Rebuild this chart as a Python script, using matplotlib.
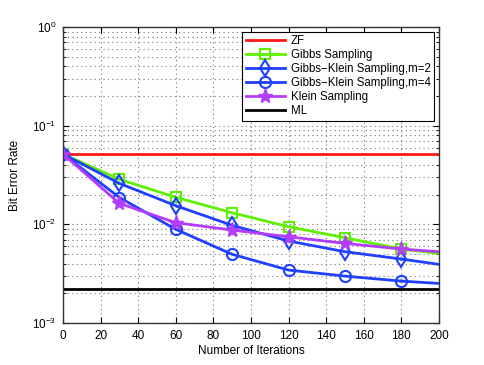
import matplotlib
matplotlib.use('Agg')
import matplotlib.pyplot as plt
import numpy as np

# ── Data ────────────────────────────────────────────────────────────────────
iters = [0, 30, 60, 90, 120, 150, 180, 200]
zf = [0.0515] * len(iters)
ml = [0.00221] * len(iters)
gibbs = [0.0515, 0.0286, 0.0188, 0.0131, 0.00946, 0.00731, 0.00562, 0.00508]
gk_m2 = [0.0515, 0.0260, 0.01545, 0.00977, 0.00678, 0.00528, 0.00445, 0.00393]
gk_m4 = [0.0515, 0.0187, 0.0089, 0.00497, 0.00344, 0.00299, 0.00266, 0.00252]
klein = [0.0515, 0.0163, 0.0104, 0.00875, 0.00748, 0.00642, 0.00562, 0.00528]

plt.rcParams['font.family'] = ['Liberation Sans', 'DejaVu Sans']

fig = plt.figure(figsize=(4.85, 3.65), dpi=100)
ax = fig.add_axes([0.130, 0.115, 0.775, 0.811])

lw = 2.0
ms = 7
ax.semilogy(iters, zf, color='#ff1a1a', lw=lw, label='ZF')
ax.semilogy(iters[:-1], gibbs[:-1], color='#5ef000', lw=lw, marker='s', ms=ms,
            mfc='none', mew=1.5, label='Gibbs Sampling')
ax.semilogy(iters[:-1], gk_m2[:-1], color='#2040ff', lw=lw, marker='d', ms=ms + 1,
            mfc='none', mew=1.5, label='Gibbs\u2212Klein Sampling,m=2')
ax.semilogy(iters[:-1], gk_m4[:-1], color='#2040ff', lw=lw, marker='o', ms=ms + 1,
            mfc='none', mew=1.5, label='Gibbs\u2212Klein Sampling,m=4')
ax.semilogy(iters[:-1], klein[:-1], color='#b43cff', lw=lw, marker='*', ms=ms + 4,
            mew=1.0, label='Klein Sampling')
ax.semilogy(iters, ml, color='black', lw=lw, label='ML')

# line tails to x=200 without markers
ax.semilogy(iters[-2:], gibbs[-2:], color='#5ef000', lw=lw)
ax.semilogy(iters[-2:], gk_m2[-2:], color='#2040ff', lw=lw)
ax.semilogy(iters[-2:], gk_m4[-2:], color='#2040ff', lw=lw)
ax.semilogy(iters[-2:], klein[-2:], color='#b43cff', lw=lw)

ax.set_xlim(0, 200)
ax.set_ylim(1e-3, 1)
ax.set_xticks(np.arange(0, 201, 20))
ax.set_xlabel('Number of Iterations', fontsize=8.5, labelpad=2)
ax.set_ylabel('Bit Error Rate', fontsize=8.5, labelpad=8)

grid_ls = (0, (1, 3))
ax.grid(True, which='major', ls=grid_ls, color='#777777', lw=0.8)
ax.grid(True, which='minor', axis='y', ls=grid_ls, color='#777777', lw=0.8)
ax.tick_params(which='both', direction='in', top=True, right=True, labelsize=8.5)
ax.tick_params(which='major', length=4, pad=5)
ax.tick_params(which='minor', length=2)
for sp in ax.spines.values():
    sp.set_linewidth(1.0)
    sp.set_color('#333333')

leg = ax.legend(loc='upper right', fontsize=8.3, frameon=True, fancybox=False,
                edgecolor='black', framealpha=1, handlelength=3.4,
                borderaxespad=0.4, labelspacing=0.18, borderpad=0.3,
                handletextpad=0.5)
leg.get_frame().set_linewidth(0.8)

fig.savefig('out.png', dpi=100)
